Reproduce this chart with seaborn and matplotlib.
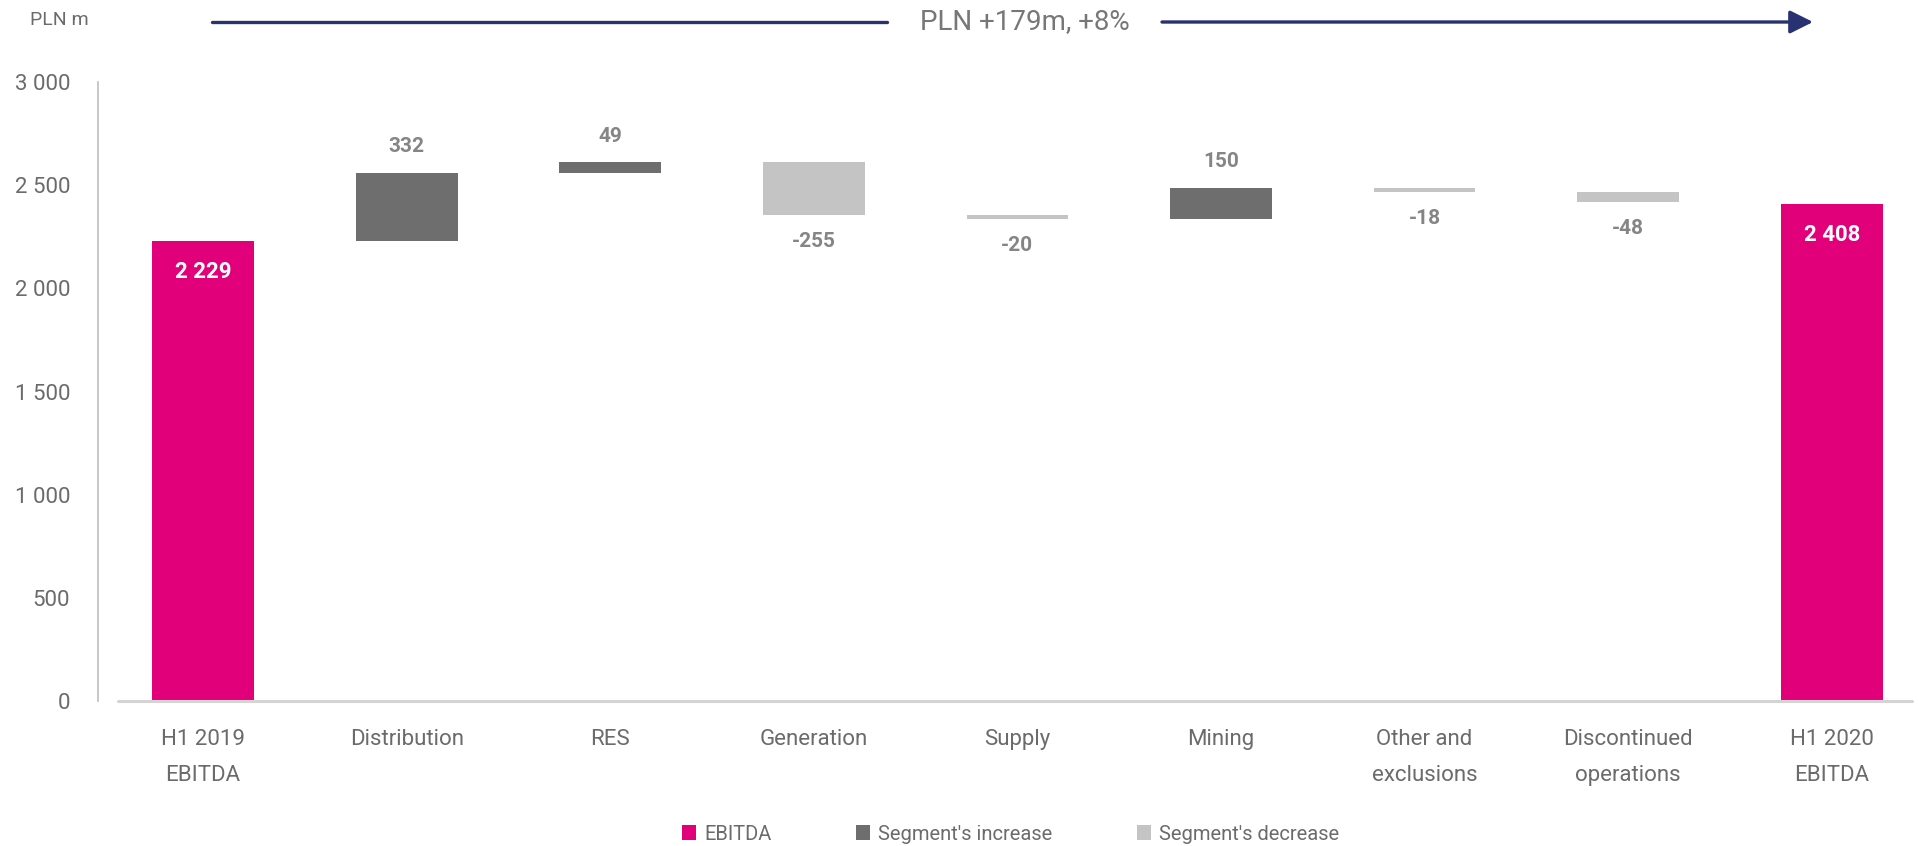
import matplotlib
matplotlib.use("Agg")
import matplotlib.pyplot as plt
import seaborn as sns
import pandas as pd
from matplotlib.patches import Patch

# ---------------- data ----------------
categories = ["H1 2019\nEBITDA", "Distribution", "RES", "Generation", "Supply",
              "Mining", "Other and\nexclusions", "Discontinued\noperations", "H1 2020\nEBITDA"]
values = [2229, 332, 49, -255, -20, 150, -18, -48, 2408]
kinds = ["EBITDA", "Segment's increase", "Segment's increase", "Segment's decrease",
         "Segment's decrease", "Segment's increase", "Segment's decrease",
         "Segment's decrease", "EBITDA"]
value_labels = ["2 229", "332", "49", "-255", "-20", "150", "-18", "-48", "2 408"]
y_ticks = [0, 500, 1000, 1500, 2000, 2500, 3000]
y_tick_labels = ["0", "500", "1 000", "1 500", "2 000", "2 500", "3 000"]
legend_order = ["EBITDA", "Segment's increase", "Segment's decrease"]
headline = "PLN +179m, +8%"
unit_label = "PLN m"

palette = {"EBITDA": "#E2007A", "Segment's increase": "#6E6E6E", "Segment's decrease": "#C4C4C4"}

# waterfall geometry derived from the values
tops, bases = [], []
running = 0
for v, k in zip(values, kinds):
    if k == "EBITDA":
        bases.append(0)
        tops.append(v)
        running = v
    else:
        start, end = running, running + v
        bases.append(min(start, end))
        tops.append(max(start, end))
        running = end

df = pd.DataFrame({"category": categories, "top": tops, "base": bases, "kind": kinds})

# ---------------- style ----------------
sns.set_theme(style="white")
plt.rcParams["font.family"] = ["Roboto", "DejaVu Sans"]

W, H = 1918, 846
fig = plt.figure(figsize=(W / 100, H / 100), dpi=100)
ax = fig.add_axes([98 / W, 145 / H, 1814 / W, 619 / H])

sns.barplot(data=df, x="category", y="top", hue="kind", palette=palette, order=categories,
            hue_order=legend_order, dodge=False, width=0.5, legend=False, ax=ax,
            linewidth=0, saturation=1)
sns.barplot(data=df, x="category", y="base", order=categories, color="white", width=0.5,
            ax=ax, linewidth=0, saturation=1)

ax.set_xlim(-0.516, 8.394)
ax.set_ylim(0, 3000)
ax.set_yticks(y_ticks)
ax.set_yticklabels(y_tick_labels)
ax.set_xlabel("")
ax.set_ylabel("")

for s in ["top", "right", "bottom"]:
    ax.spines[s].set_visible(False)
ax.spines["left"].set_color("#BFBFBF")
ax.spines["left"].set_linewidth(1.2)
ax.axhline(0, xmin=0.011, xmax=1.0, color="#D4D4D4", lw=2.2, zorder=5, clip_on=False)

ax.tick_params(axis="both", length=0, labelsize=16, labelcolor="#6B6B6B")
ax.tick_params(axis="y", pad=20)
ax.tick_params(axis="x", pad=20)
for lbl in ax.get_xticklabels():
    lbl.set_linespacing(1.95)
    lbl.set_verticalalignment("top")

# value labels
for i, (lab, k) in enumerate(zip(value_labels, kinds)):
    if k == "EBITDA":
        ax.annotate(lab, (i, tops[i]), xytext=(0, -22), textcoords="offset points",
                    ha="center", va="center", color="white", fontsize=16, fontweight="bold")
    elif k == "Segment's increase":
        ax.annotate(lab, (i, tops[i]), xytext=(0, 19), textcoords="offset points",
                    ha="center", va="center", color="#858585", fontsize=15, fontweight="bold")
    else:
        ax.annotate(lab, (i, bases[i]), xytext=(0, -19), textcoords="offset points",
                    ha="center", va="center", color="#858585", fontsize=15, fontweight="bold")

# headline arrow
ya = 1 - 22 / H
navy = "#283273"
fig.add_artist(matplotlib.lines.Line2D([212 / W, 887 / W], [ya, ya], color=navy, lw=2.4))
fig.add_artist(matplotlib.patches.FancyArrowPatch((1162 / W, ya), (1813 / W, ya),
               transform=fig.transFigure, arrowstyle="-|>,head_length=0.7,head_width=0.35",
               mutation_scale=20, color=navy, lw=2.4, shrinkA=0, shrinkB=0))
fig.text(1025 / W, ya, headline, ha="center", va="center", fontsize=20, color="#777777")
fig.text(30 / W, 1 - 20 / H, unit_label, ha="left", va="center", fontsize=14, color="#6B6B6B")

# legend
handles = [Patch(facecolor=palette[k], edgecolor="none", label=k) for k in legend_order]
fig.legend(handles=handles, loc="center", bbox_to_anchor=(0.527, 12 / H), ncol=3,
           frameon=False, fontsize=14.5, handlelength=0.7, handleheight=0.7,
           handletextpad=0.4, columnspacing=4.2, labelcolor="#6B6B6B")

fig.savefig("out.png", dpi=100)
